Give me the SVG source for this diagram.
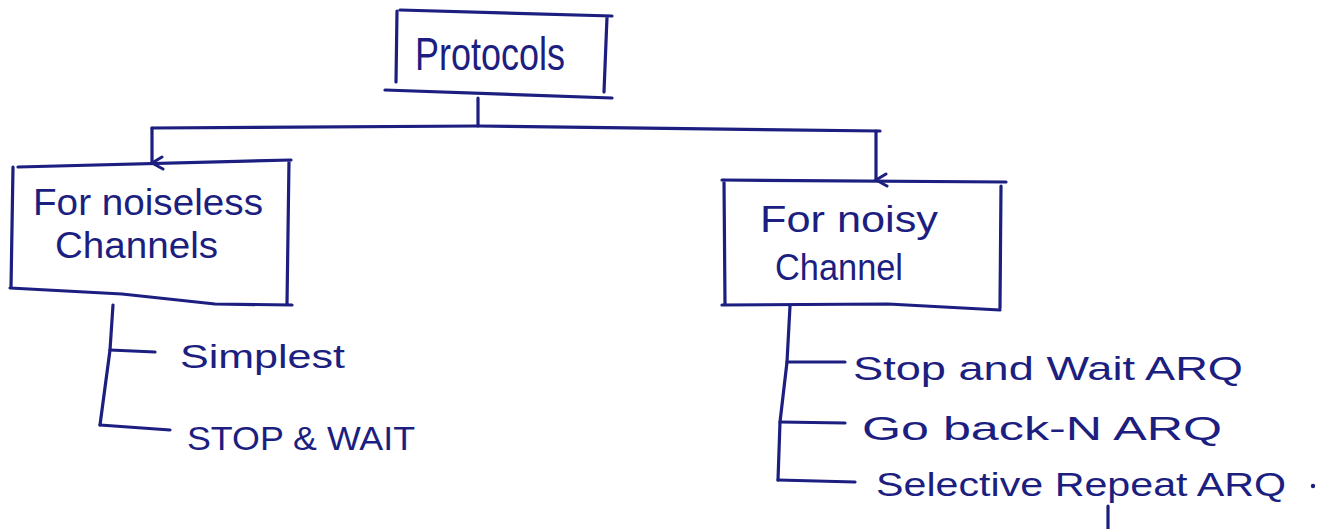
<svg xmlns="http://www.w3.org/2000/svg" width="1329" height="529" viewBox="0 0 1329 529">
  <style>
    .ink { fill: none; stroke: #1c1e80; stroke-width: 3.2; stroke-linecap: round; stroke-linejoin: round; }
    .lbl { fill: #1c1e80; font-family: "Liberation Sans", "DejaVu Sans", sans-serif; }
  </style>
  <defs>
    <marker id="arrow" viewBox="0 0 16 16" refX="8" refY="14" markerWidth="16" markerHeight="16" markerUnits="userSpaceOnUse" orient="auto-start-reverse">
      <path d="M2,4 L8,14 L14,3" fill="none" stroke="#1c1e80" stroke-width="3" stroke-linecap="round"/>
    </marker>
  </defs>
  <rect width="1329" height="529" fill="#ffffff"/>

  <!-- root -->
  <g id="protocols">
    <path class="ink" d="M400,10 L612,16 M397,11 L396,82 M607,17 L604,92 M385,90 L612,98"/>
    <text class="lbl" x="415" y="70" font-size="46" textLength="150" lengthAdjust="spacingAndGlyphs">Protocols</text>
  </g>

  <!-- noiseless channels -->
  <g id="noiseless">
    <path class="ink" d="M18,167 L291,160 M13,167 L11,288 M289,161 L287,305 M10,288 L122,294 L215,304 L292,305"/>
    <text class="lbl" x="33" y="215" font-size="36" textLength="230" lengthAdjust="spacingAndGlyphs">For noiseless</text>
    <text class="lbl" x="55" y="258" font-size="36" textLength="163" lengthAdjust="spacingAndGlyphs">Channels</text>
  </g>

  <!-- noisy channel -->
  <g id="noisy">
    <path class="ink" d="M722,180 L1006,182 M724,180 L725,305 M1001,186 L1000,308 M722,305 L888,304 L1000,310"/>
    <text class="lbl" x="760" y="232" font-size="36" textLength="178" lengthAdjust="spacingAndGlyphs">For noisy</text>
    <text class="lbl" x="775" y="280" font-size="36" textLength="128" lengthAdjust="spacingAndGlyphs">Channel</text>
  </g>

  <!-- leaves -->
  <g id="simplest">
    <text class="lbl" x="180" y="368" font-size="34" textLength="165" lengthAdjust="spacingAndGlyphs">Simplest</text>
  </g>
  <g id="stop-wait">
    <text class="lbl" x="187" y="450" font-size="34" textLength="228" lengthAdjust="spacingAndGlyphs">STOP &amp; WAIT</text>
  </g>
  <g id="stop-wait-arq">
    <text class="lbl" x="853" y="380" font-size="34" textLength="390" lengthAdjust="spacingAndGlyphs">Stop and Wait ARQ</text>
  </g>
  <g id="go-back-n">
    <text class="lbl" x="862" y="440" font-size="34" textLength="360" lengthAdjust="spacingAndGlyphs">Go back-N ARQ</text>
  </g>
  <g id="selective-repeat">
    <text class="lbl" x="876" y="496" font-size="34" textLength="410" lengthAdjust="spacingAndGlyphs">Selective Repeat ARQ</text>
    <circle cx="1313" cy="486" r="2.2" fill="#1c1e80"/>
  </g>

  <!-- connectors -->
  <g id="connectors">
    <path class="ink" d="M478,98 L478,126"/>
    <path class="ink" d="M152,128 L478,126 L880,131"/>
    <path class="ink" d="M152,128 L152,163" marker-end="url(#arrow)"/>
    <path class="ink" d="M876,131 L876,180" marker-end="url(#arrow)"/>
    <path class="ink" d="M113,305 L110,350 L100,425"/>
    <path class="ink" d="M110,350 L155,352"/>
    <path class="ink" d="M100,425 L170,430"/>
    <path class="ink" d="M790,306 L787,362 L780,422 L778,480"/>
    <path class="ink" d="M787,362 L845,362"/>
    <path class="ink" d="M780,422 L845,423"/>
    <path class="ink" d="M778,480 L855,482"/>
    <path class="ink" d="M1108,506 L1108,529"/>
  </g>
</svg>
